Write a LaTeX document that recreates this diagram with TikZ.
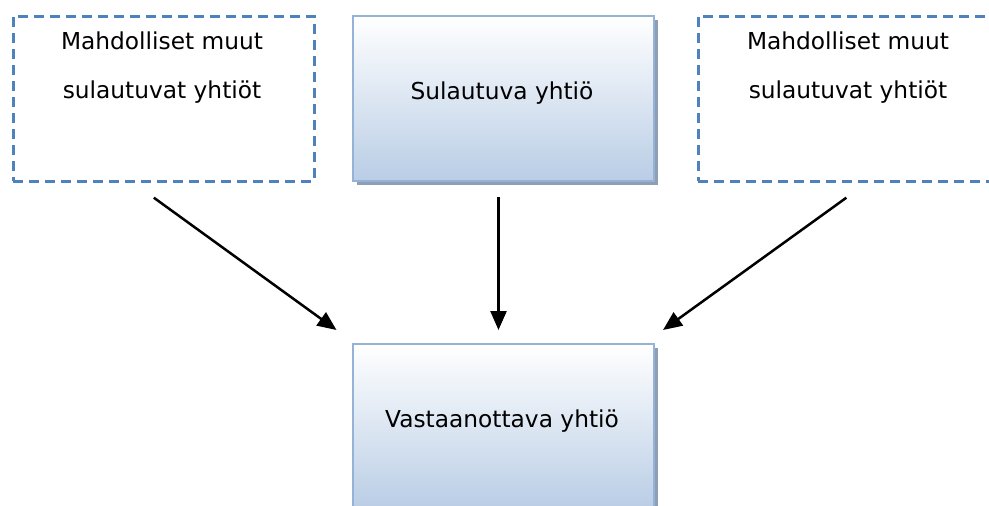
\documentclass[tikz,border=0pt]{standalone}
\usepackage{fontspec}
\setmainfont{DejaVu Sans}
\usetikzlibrary{arrows.meta,shadows}
\definecolor{reuna}{HTML}{95B3D7}
\definecolor{pohja}{HTML}{B9CDE5}
\definecolor{varjo}{HTML}{8E9FB5}
\definecolor{katko}{HTML}{4F81BD}

\begin{document}
\begin{tikzpicture}[x=1pt,y=-1pt,>={Triangle[length=19pt,width=16pt]},
  yhtio/.style={draw=reuna,line width=2pt,top color=white,bottom color=pohja,
    minimum width=301pt,minimum height=165pt,anchor=north west,inner sep=0pt,
    drop shadow={shadow xshift=3.5pt,shadow yshift=-4pt,fill=varjo,opacity=1}},
  muu/.style={draw=katko,line width=2.7pt,dash pattern=on 10pt off 6pt,
    minimum width=301pt,minimum height=165pt,anchor=north west,inner sep=0pt},
  teksti/.style={font=\fontsize{23.3}{49}\selectfont,align=center,inner sep=0pt},
  nuoli/.style={->,line width=2.5pt}]
  \useasboundingbox (0,0) rectangle (989,506);
  \clip (0,0) rectangle (989,506);
  % laatikot
  \node[muu] (vasen) at (12,15) {};
  \node[yhtio] (sul) at (352,15) {};
  \node[muu] (oikea) at (697,15) {};
  \node[yhtio] (vast) at (352,343) {};
  \node[teksti] (vasenteksti) at (162,68) {Mahdolliset muut\\sulautuvat yhtiöt};
  \node[teksti] (sulteksti) at (502,93) {Sulautuva yhtiö};
  \node[teksti] (oikeateksti) at (848,68) {Mahdolliset muut\\sulautuvat yhtiöt};
  \node[teksti] (vastteksti) at (502,421) {Vastaanottava yhtiö};
  % nuolet
  \coordinate (v0) at ([shift={(-10,15)}]vasen.south);
  \coordinate (v1) at ([shift={(-167,-13)}]vast.north);
  \coordinate (s0) at ([shift={(-5,15)}]sul.south);
  \coordinate (s1) at ([shift={(-5,-13)}]vast.north);
  \coordinate (o0) at ([shift={(-2.5,15)}]oikea.south);
  \coordinate (o1) at ([shift={(159.5,-13)}]vast.north);
  \draw[nuoli] (v0) -- (v1);
  \draw[nuoli] (s0) -- (s1);
  \draw[nuoli] (o0) -- (o1);
\end{tikzpicture}
\end{document}
